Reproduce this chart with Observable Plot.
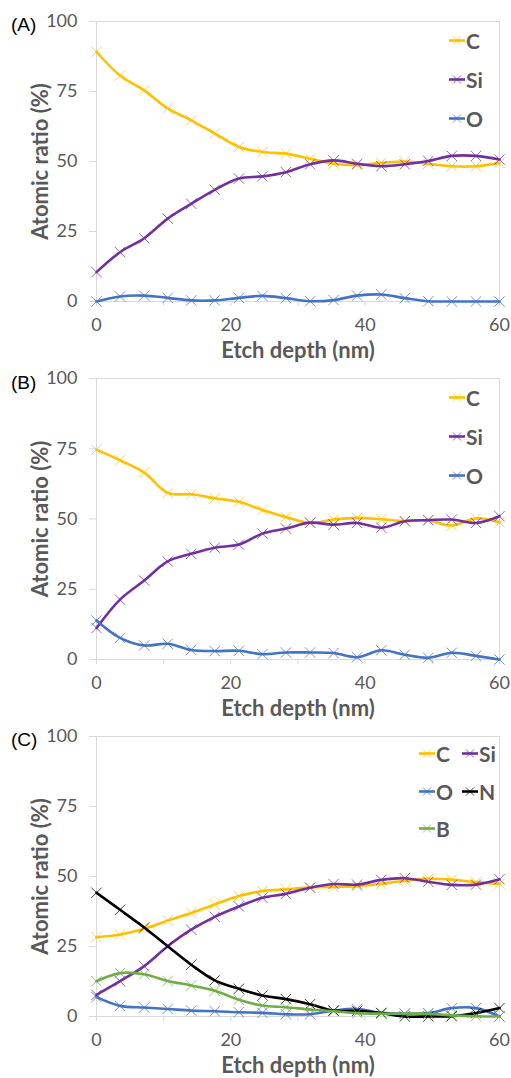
<!DOCTYPE html>
<html><head><meta charset="utf-8">
<script src="https://cdn.jsdelivr.net/npm/d3@7"></script>
<script src="https://cdn.jsdelivr.net/npm/@observablehq/plot@0.6"></script>
<style>
body{margin:0;background:#fff;}
#root{position:relative;width:511px;height:1078px;overflow:hidden;background:#fff;}
.panel{position:absolute;left:0;width:511px;overflow:visible;}
.panel svg{overflow:visible;}
.plabel{position:absolute;left:11px;font-family:"Liberation Sans",Arial,sans-serif;font-size:19px;color:#000;line-height:1;}
.leg{position:absolute;display:flex;align-items:center;font-family:Lato,sans-serif;font-weight:bold;font-size:21px;color:#595959;line-height:1;transform:translateY(-50%);}
.leg svg{margin-right:1px;}
</style></head><body><div id="root"></div>
<script>
// Etch depth (nm)
const depth = [0, 3.5, 7.1, 10.6, 14.1, 17.6, 21.2, 24.7, 28.2, 31.8, 35.3, 38.8, 42.4, 45.9, 49.4, 52.9, 56.5, 60];
const xTicks = [0, 10, 20, 30, 40, 50, 60];
const yTicks = [0, 25, 50, 75, 100];

// Panel (A)
const A_C  = [89.2, 80.7, 75.4, 69.0, 64.7, 60.0, 55.2, 53.4, 52.8, 51.0, 49.2, 48.7, 49.5, 50.0, 49.2, 48.3, 48.3, 49.5];
const A_Si = [10.5, 17.6, 22.6, 29.6, 34.9, 39.9, 43.9, 44.7, 46.2, 49.0, 50.4, 49.2, 48.3, 49.0, 50.2, 52.0, 52.0, 50.7];
const A_O  = [0.0, 1.8, 2.1, 1.3, 0.4, 0.4, 1.3, 2.0, 1.2, 0.1, 0.5, 2.1, 2.5, 1.2, 0.1, 0.0, 0.0, 0.0];

// Panel (B)
const B_C  = [74.7, 70.9, 66.5, 59.3, 58.8, 57.4, 56.1, 53.2, 50.7, 48.6, 49.8, 50.4, 49.9, 49.3, 49.5, 47.7, 50.2, 48.8];
const B_Si = [11.2, 21.3, 28.1, 34.9, 37.6, 39.8, 40.9, 44.8, 46.6, 48.7, 48.0, 48.6, 46.9, 49.2, 49.6, 49.8, 48.6, 51.0];
const B_O  = [13.9, 7.7, 5.0, 5.6, 3.4, 3.0, 3.1, 1.9, 2.5, 2.5, 2.3, 0.8, 3.3, 1.7, 0.6, 2.4, 1.3, 0.0];

// Panel (C)
const C_C  = [28.3, 29.3, 31.3, 34.3, 37.0, 40.0, 43.0, 44.8, 45.4, 46.1, 46.3, 46.5, 47.4, 48.5, 49.2, 48.9, 48.0, 47.4];
const C_Si = [7.7, 12.6, 18.0, 25.1, 31.0, 35.6, 39.3, 42.4, 43.8, 46.0, 47.3, 47.1, 48.8, 49.4, 48.1, 47.0, 47.1, 49.0];
const C_O  = [6.9, 3.8, 3.2, 2.7, 2.1, 1.9, 1.5, 1.3, 0.8, 0.8, 2.1, 2.7, 1.3, 1.0, 1.2, 3.0, 3.0, 0.0];
const C_N  = [44.2, 38.1, 31.8, 25.1, 18.5, 12.9, 9.9, 7.5, 6.2, 4.4, 2.1, 2.0, 1.2, 0.0, 0.0, 0.1, 1.2, 3.0];
const C_B  = [12.6, 15.5, 15.1, 12.7, 11.1, 9.2, 6.0, 3.9, 3.3, 2.5, 1.9, 1.2, 1.0, 1.0, 1.0, 0.4, 0.1, 0.0];

const colors = {C: "#FFC000", Si: "#7030A0", O: "#4472C4", N: "#000000", B: "#70AD47"};

const root = document.getElementById("root");

function rows(values) {
  return values.map((v, i) => ({depth: depth[i], value: v}));
}

function makePanel(cfg) {
  const div = document.createElement("div");
  div.className = "panel";
  div.style.top = cfg.top + "px";
  div.style.height = cfg.height + "px";
  const marks = [
    Plot.frame({stroke: "#d9d9d9", strokeWidth: 1}),
    Plot.axisX(xTicks, {tickSize: 5, tickPadding: 12, stroke: "#d9d9d9", tickFormat: d => d % 20 === 0 ? String(d) : "", fill: "#595959", fontSize: 18, label: null}),
    Plot.axisY(yTicks, {tickSize: 7, tickPadding: 12, stroke: "#d9d9d9", fill: "#595959", fontSize: 18, label: null})
  ];
  for (const s of cfg.series) {
    const d = rows(s.values);
    marks.push(Plot.lineY(d, {x: "depth", y: "value", stroke: colors[s.name], strokeWidth: 2.6, curve: "catmull-rom"}));
    marks.push(Plot.dot(d, {x: "depth", y: "value", symbol: "times", r: 4.8, stroke: colors[s.name], strokeWidth: 1, strokeOpacity: 0.75}));
  }
  marks.push(Plot.text(["Etch depth (nm)"], {frameAnchor: "bottom", dy: 49, lineAnchor: "middle", textAnchor: "middle", fontSize: 22, fontWeight: "bold", fill: "#595959"}));
  marks.push(Plot.text(["Atomic ratio (%)"], {frameAnchor: "left", dx: -56, rotate: -90, textAnchor: "middle", lineAnchor: "middle", fontSize: 22, fontWeight: "bold", fill: "#595959"}));
  const plot = Plot.plot({
    width: 511,
    height: cfg.height,
    marginLeft: 96,
    marginRight: 12,
    marginTop: cfg.mTop,
    marginBottom: cfg.height - 301,
    style: {fontFamily: "Lato, sans-serif", fontSize: "18px", color: "#595959", background: "transparent", overflow: "visible"},
    x: {domain: [0, 60]},
    y: {domain: [0, 100]},
    marks
  });
  div.appendChild(plot);

  const lab = document.createElement("div");
  lab.className = "plabel";
  lab.textContent = cfg.label;
  lab.style.top = cfg.labelY + "px";
  div.appendChild(lab);

  for (const it of cfg.legend) {
    const L = document.createElement("div");
    L.className = "leg";
    L.style.left = it.x + "px";
    L.style.top = it.y + "px";
    const c = colors[it.name];
    L.innerHTML = `<svg width="16" height="12" viewBox="0 0 16 12"><line x1="0" y1="6" x2="16" y2="6" stroke="${c}" stroke-width="2.6"/><path d="M4 2 L12 10 M12 2 L4 10" stroke="${c}" stroke-width="1" stroke-opacity="0.75"/></svg><span>${it.name}</span>`;
    div.appendChild(L);
  }
  root.appendChild(div);
}

makePanel({
  top: 0, height: 358, mTop: 21, label: "(A)", labelY: 15,
  series: [{name: "C", values: A_C}, {name: "Si", values: A_Si}, {name: "O", values: A_O}],
  legend: [{name: "C", x: 449, y: 40}, {name: "Si", x: 449, y: 79}, {name: "O", x: 449, y: 118}]
});
makePanel({
  top: 358, height: 357, mTop: 20, label: "(B)", labelY: 15,
  series: [{name: "C", values: B_C}, {name: "Si", values: B_Si}, {name: "O", values: B_O}],
  legend: [{name: "C", x: 449, y: 39}, {name: "Si", x: 449, y: 78}, {name: "O", x: 449, y: 117}]
});
makePanel({
  top: 715, height: 363, mTop: 21, label: "(C)", labelY: 15,
  series: [{name: "C", values: C_C}, {name: "Si", values: C_Si}, {name: "O", values: C_O}, {name: "N", values: C_N}, {name: "B", values: C_B}],
  legend: [{name: "C", x: 419, y: 38}, {name: "Si", x: 462, y: 38}, {name: "O", x: 419, y: 76}, {name: "N", x: 462, y: 76}, {name: "B", x: 419, y: 113}]
});
</script></body></html>
